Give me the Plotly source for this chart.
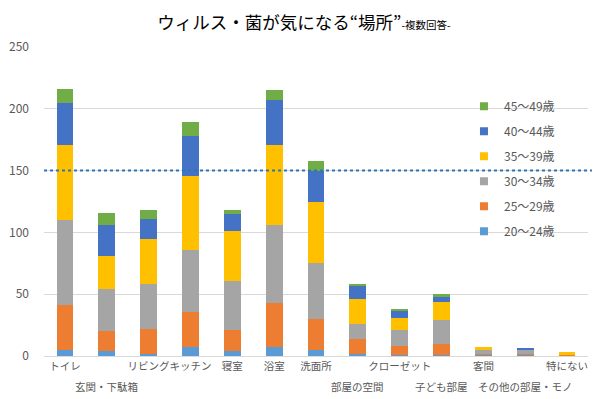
import plotly.graph_objects as go

categories = ["トイレ", "玄関・下駄箱", "リビング", "キッチン", "寝室", "浴室", "洗面所",
              "部屋の空間", "クローゼット", "子ども部屋", "客間", "その他の部屋・モノ", "特にない"]
# labels that Excel staggered to a second row
second_row = ["玄関・下駄箱", "部屋の空間", "子ども部屋", "その他の部屋・モノ"]

series_names = ["20～24歳", "25～29歳", "30～34歳", "35～39歳", "40～44歳", "45～49歳"]
age_20_24 = [5, 4, 2, 7, 4, 7, 5, 2, 1, 1, 1, 1, 0]
age_25_29 = [36, 16, 20, 29, 17, 36, 25, 12, 7, 9, 1, 1, 1]
age_30_34 = [69, 34, 36, 50, 40, 63, 45, 12, 13, 19, 3, 3, 0]
age_35_39 = [61, 27, 37, 60, 40, 65, 50, 20, 10, 15, 2, 0, 2]
age_40_44 = [34, 25, 16, 32, 14, 36, 25, 11, 6, 4, 0, 1, 0]
age_45_49 = [11, 10, 7, 11, 3, 8, 8, 1, 1, 2, 0, 0, 0]
series_values = [age_20_24, age_25_29, age_30_34, age_35_39, age_40_44, age_45_49]
colors = ["#5B9BD5", "#ED7D31", "#A5A5A5", "#FFC000", "#4472C4", "#70AD47"]

y_ticks = [0, 50, 100, 150, 200, 250]
reference_value = 150

FONT = "Noto Sans CJK JP"
GRAY = "#595959"

fig = go.Figure()
for name, vals, col in zip(series_names, series_values, colors):
    fig.add_trace(go.Bar(x=categories, y=vals, name=name, marker_color=col,
                         marker_line_width=0, showlegend=False, width=0.4))

# legend entries (small square swatches, top to bottom 45-49 ... 20-24)
for i, (name, col) in enumerate(reversed(list(zip(series_names, colors)))):
    fig.add_trace(go.Scatter(x=[None], y=[None], mode="markers", name=name,
                             marker=dict(symbol="square", size=8, color=col),
                             legendgroup=f"g{i}", showlegend=True))

fig.add_shape(type="line", xref="paper", yref="y", x0=0, x1=1.015,
              y0=reference_value, y1=reference_value,
              line=dict(color="#2E75B6", width=2, dash="dot"), layer="above")

# first-row labels on the axis; second-row labels placed lower as annotations
ticktext = ["" if c in second_row else c for c in categories]
for c in second_row:
    fig.add_annotation(x=c, xref="x", y=-0.1, yref="paper", text=c, showarrow=False,
                       xanchor="center", yanchor="middle",
                       font=dict(family=FONT, size=10.5, color=GRAY))

# the page body has an 8px margin, so the figure is sized to fill the rest of the window
fig.update_layout(
    width=592, height=391,
    margin=dict(l=36, r=12, t=39, b=43),
    paper_bgcolor="white", plot_bgcolor="white",
    barmode="stack",
    font=dict(family=FONT, color=GRAY, size=12),
    title=dict(text="ウィルス・菌が気になる“場所”<span style='font-size:10.5px'>-複数回答-</span>",
               x=0.5, xanchor="center", y=0.9616, yanchor="middle",
               font=dict(family=FONT, size=17.5, color="#000000")),
    xaxis=dict(type="category", tickmode="array", tickvals=categories, ticktext=ticktext,
               tickfont=dict(size=10.5, color=GRAY), showgrid=False, showline=False,
               ticks="", tickangle=0, automargin=False, ticklabelstandoff=2),
    yaxis=dict(range=[0, 250], tickvals=y_ticks, showgrid=True, gridcolor="#D9D9D9",
               gridwidth=1, zeroline=True, zerolinecolor="#D9D9D9", zerolinewidth=1,
               tickfont=dict(size=12, color=GRAY), ticklabelstandoff=14, showline=False,
               automargin=False),
    legend=dict(x=0.772, y=0.855, xanchor="left", yanchor="top",
                bgcolor="rgba(0,0,0,0)", traceorder="grouped", tracegroupgap=6,
                font=dict(size=12, color=GRAY), itemwidth=30),
    bargap=0.6,
)

fig.write_html("out.html")
